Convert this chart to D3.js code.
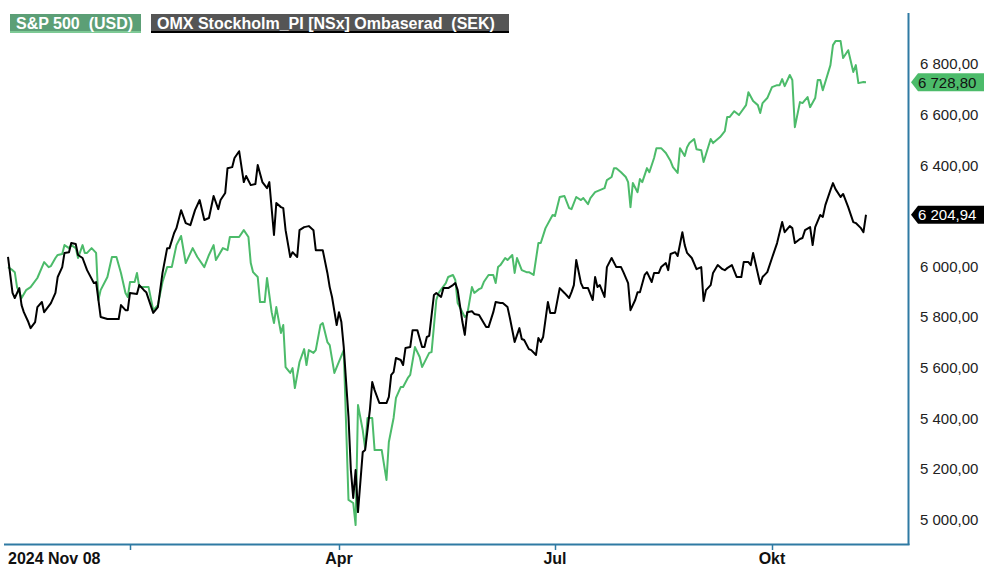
<!DOCTYPE html>
<html><head><meta charset="utf-8">
<script src="https://cdn.jsdelivr.net/npm/d3@7"></script>
<style>body{margin:0;background:#fff}svg{display:block}text{white-space:pre}</style>
</head><body><svg id="c" width="984" height="567"></svg>
<script>
// ---- data (day offsets from 2024-11-08) ----
const startDate = new Date(2024, 10, 8);
const seriesNames = ["S&P 500  (USD)", "OMX Stockholm_PI [NSx] Ombaserad  (SEK)"];
const spDays = [0,2,3,4,6,8,10,13,16,18,
 19,21,22,24,25,27,28,30,31,33,
 34,35,37,39,40,41,44,46,48,50,
 52,53,54,56,57,58,62,64,66,68,
 70,72,74,76,78,81,83,86,88,90,
 91,94,96,97,99,101,103,105,106,107,
 109,110,112,113,115,116,117,119,120,121,
 123,124,125,127,129,130,131,133,134,136,
 137,139,140,142,146,148,150,151,152,154,
 155,156,158,159,162,164,165,167,168,170,
 171,173,174,176,178,179,182,183,185,186,
 189,190,192,193,194,197,198,200,201,203,
 204,205,207,209,210,211,212,214,215,217,
 218,219,221,223,224,226,228,229,231,234,
 235,237,239,241,242,244,246,247,249,250,
 252,254,256,257,259,260,261,263,265,266,
 267,268,270,271,272,274,275,277,278,280,
 282,284,285,287,288,290,291,292,294,295,
 297,298,301,302,305,307,308,309,311,313,
 316,317,319,321,322,323,325,327,329,330,
 331,332,334,335,336,338,339,341,342,344,
 345,346,347,350,351,352,354,355,357,359,
 360,361,363,364];
const spValues = [5998,5986,5978,5919,5876,5907,5919,5955,6018,5998,
 6002,6034,6046,6050,6085,6073,6085,6073,6034,6085,
 6054,6054,6073,6054,5868,5907,5959,6038,6038,5975,
 5896,5880,5939,5939,5975,5919,5919,5828,5848,5939,
 5998,5998,6085,6121,6014,6073,6038,5998,6046,6085,
 6026,6073,6065,6117,6117,6117,6144,6117,6014,5978,
 5959,5860,5860,5955,5820,5777,5840,5738,5769,5603,
 5580,5599,5520,5623,5674,5611,5670,5659,5670,5769,
 5777,5702,5690,5580,5670,5078,5066,4979,5453,5354,
 5283,5402,5402,5275,5275,5157,5307,5402,5481,5524,
 5524,5560,5572,5682,5643,5603,5659,5662,5868,5896,
 5935,5959,5967,5947,5856,5801,5809,5919,5896,5911,
 5915,5939,5967,5967,5935,5998,6006,6034,6026,6046,
 5975,6034,5986,5978,5978,5967,6093,6093,6152,6204,
 6200,6275,6279,6231,6227,6275,6263,6271,6247,6271,
 6294,6302,6310,6342,6354,6389,6389,6373,6354,6334,
 6235,6330,6294,6346,6334,6389,6373,6429,6468,6468,
 6449,6417,6393,6370,6468,6437,6472,6488,6504,6464,
 6460,6413,6504,6488,6512,6535,6591,6591,6614,6599,
 6638,6689,6654,6638,6607,6646,6666,6709,6717,6717,
 6741,6713,6757,6737,6551,6650,6646,6670,6630,6666,
 6737,6737,6697,6796,6875,6891,6891,6824,6855,6769,
 6796,6725,6729,6728.80];
const omxDays = [0,2,3,5,6,7,9,10,12,13,
 15,16,19,21,22,24,25,27,28,30,
 31,33,35,38,39,41,44,49,50,52,
 53,54,57,58,60,61,64,66,68,70,
 71,73,74,76,78,80,82,84,86,88,
 90,92,93,95,96,98,99,101,103,104,
 106,108,109,111,113,114,116,117,119,120,
 121,123,124,126,127,129,131,133,134,137,
 139,140,141,143,144,145,146,148,149,150,
 151,152,154,155,157,158,159,161,164,165,
 166,167,168,170,171,172,174,175,177,179,
 180,181,182,184,185,187,188,190,192,193,
 194,196,197,198,200,201,203,206,207,209,
 210,212,213,215,216,218,220,221,222,224,
 225,227,228,229,230,232,233,235,237,239,
 241,242,243,244,246,247,249,251,252,253,
 254,256,257,259,261,263,264,266,267,269,
 270,271,273,274,276,277,279,280,282,283,
 284,286,287,289,290,291,293,295,297,298,
 299,301,302,304,306,307,308,310,312,314,
 315,317,318,319,322,323,325,327,329,331,
 332,334,335,336,338,339,340,342,343,344,
 346,347,348,350,351,352,354,355,357,359,
 360,362,363,364];
const omxValues = [6038,5896,5876,5915,5848,5820,5781,5757,5781,5840,
 5860,5820,5856,5896,5959,5998,6054,6057,6093,6089,
 6046,6034,5986,5935,5939,5801,5793,5793,5848,5828,
 5828,5896,5892,5927,5907,5899,5817,5840,5975,6073,
 6073,6133,6152,6223,6172,6164,6223,6263,6184,6192,
 6279,6227,6263,6291,6389,6393,6429,6456,6334,6358,
 6322,6326,6401,6334,6310,6334,6125,6251,6235,6231,
 6144,6038,6057,6038,6144,6156,6160,6144,6065,6065,
 5975,5919,5880,5769,5820,5781,5682,5406,5196,5086,
 5196,5030,5267,5275,5433,5544,5512,5461,5461,5485,
 5572,5583,5639,5631,5611,5678,5682,5749,5749,5682,
 5682,5722,5726,5888,5896,5880,5915,5915,5927,5935,
 5907,5781,5730,5820,5824,5813,5809,5761,5761,5820,
 5860,5856,5856,5840,5797,5702,5757,5714,5710,5674,
 5670,5651,5718,5702,5722,5860,5817,5817,5915,5896,
 5876,5899,5927,6026,5935,5915,5915,5868,5959,5919,
 5927,5880,5998,6034,5998,5998,5978,5935,5828,5868,
 5899,5899,5967,5978,5939,5975,5975,5998,6014,5986,
 6050,6057,6042,6136,6085,6054,6034,5990,5998,5864,
 5907,5927,5975,6006,5990,5986,5994,6006,5959,5959,
 6018,6018,6006,6054,5931,5959,5978,6034,6093,6176,
 6136,6160,6152,6093,6109,6113,6144,6156,6085,6156,
 6204,6196,6243,6302,6330,6306,6275,6287,6235,6176,
 6172,6152,6136,6204.94];
const yTicks = [5000,5200,5400,5600,5800,6000,6200,6400,6600,6800];
const xTickDates = [new Date(2025,0,1), new Date(2025,3,1), new Date(2025,6,1), new Date(2025,9,1)];
const xTickLabels = ["", "Apr", "Jul", "Okt"];
const firstLabel = "2024 Nov 08";

// ---- drawing ----
const svg = d3.select("#c");
const axisColor = "#2f7aa3";
const green = "#4cbb6a";
const x = d3.scaleTime()
  .domain([startDate, new Date(2025,0,1), new Date(2025,3,1), new Date(2025,6,1), new Date(2025,9,1), new Date(2025,10,7)])
  .range([8, 130, 339, 555, 772, 866]);
const y = d3.scaleLinear().domain([4904, 7002]).range([544, 13]);
const loc = d3.formatLocale({decimal: ",", thousands: " ", grouping: [3], currency: ["", ""]});
const fmt = loc.format(",.2f");
const toPts = (days, vals) => days.map((d, i) => ({date: d3.timeDay.offset(startDate, d), v: vals[i]}));
const sp = toPts(spDays, spValues);
const omx = toPts(omxDays, omxValues);
const line = d3.line().x(d => x(d.date)).y(d => y(d.v));

svg.append("path").datum(sp).attr("d", line).attr("fill", "none")
  .attr("stroke", green).attr("stroke-width", 2).attr("stroke-linejoin", "round");
svg.append("path").datum(omx).attr("d", line).attr("fill", "none")
  .attr("stroke", "#000").attr("stroke-width", 2).attr("stroke-linejoin", "round");

// axes lines
svg.append("line").attr("x1", 908.5).attr("x2", 908.5).attr("y1", 13).attr("y2", 545)
  .attr("stroke", axisColor).attr("stroke-width", 2);
svg.append("line").attr("x1", 4).attr("x2", 909.5).attr("y1", 544.5).attr("y2", 544.5)
  .attr("stroke", axisColor).attr("stroke-width", 2);

const narrow = "'Liberation Sans Narrow','Arial Narrow','Liberation Sans',sans-serif";
// bottom ticks
const xt = svg.append("g");
xTickDates.forEach((d, i) => {
  xt.append("line").attr("x1", Math.round(x(d)) + 0.5).attr("x2", Math.round(x(d)) + 0.5)
    .attr("y1", 545).attr("y2", 550).attr("stroke", axisColor).attr("stroke-width", 1.5);
  if (xTickLabels[i]) xt.append("text").attr("x", x(d)).attr("y", 564).attr("text-anchor", "middle")
    .attr("font-family", narrow).attr("font-weight", "bold").attr("font-size", 16)
    .attr("fill", "#111").text(xTickLabels[i]);
});
xt.append("text").attr("x", x(startDate)).attr("y", 564)
  .attr("font-family", narrow).attr("font-weight", "bold").attr("font-size", 16)
  .attr("fill", "#111").text(firstLabel);

// last values (markers cover tick labels they overlap)
const lastVals = [spValues[spValues.length - 1], omxValues[omxValues.length - 1]];

// right labels
const yl = svg.append("g");
yTicks.filter(t => lastVals.every(v => Math.abs(y(t) - y(v)) > 12)).forEach(t => {
  yl.append("text").attr("x", 920).attr("y", y(t)).attr("dy", "0.35em")
    .attr("font-family", "'Liberation Sans',Arial,sans-serif").attr("font-size", 15)
    .attr("fill", "#222").text(fmt(t));
});

function marker(v, fill, textColor) {
  const yc = y(v);
  const g = svg.append("g");
  g.append("path").attr("d", `M911,${yc} L918,${yc-9} L984,${yc-9} L984,${yc+9} L918,${yc+9} Z`).attr("fill", fill);
  g.append("text").attr("x", 918).attr("y", yc).attr("dy", "0.36em")
    .attr("font-family", "'Liberation Sans',Arial,sans-serif").attr("font-size", 15)
    .attr("fill", textColor).text(fmt(v));
}
marker(lastVals[0], green, "#111");
marker(lastVals[1], "#000", "#fff");

// legend
const lg = svg.append("g").attr("font-family", "'Liberation Sans',Arial,sans-serif")
  .attr("font-weight", "bold").attr("font-size", 16);
lg.append("rect").attr("x", 10).attr("y", 14).attr("width", 131).attr("height", 19).attr("fill", "#5c9f76");
lg.append("rect").attr("x", 10).attr("y", 31).attr("width", 131).attr("height", 2).attr("fill", "#7dc995");
lg.append("text").attr("x", 16).attr("y", 29).attr("fill", "#fff").text(seriesNames[0]);
lg.append("rect").attr("x", 151).attr("y", 14).attr("width", 358).attr("height", 19).attr("fill", "#555");
lg.append("rect").attr("x", 151).attr("y", 31).attr("width", 358).attr("height", 2).attr("fill", "#000");
lg.append("text").attr("x", 157).attr("y", 29).attr("fill", "#fff").text(seriesNames[1]);
</script></body></html>
